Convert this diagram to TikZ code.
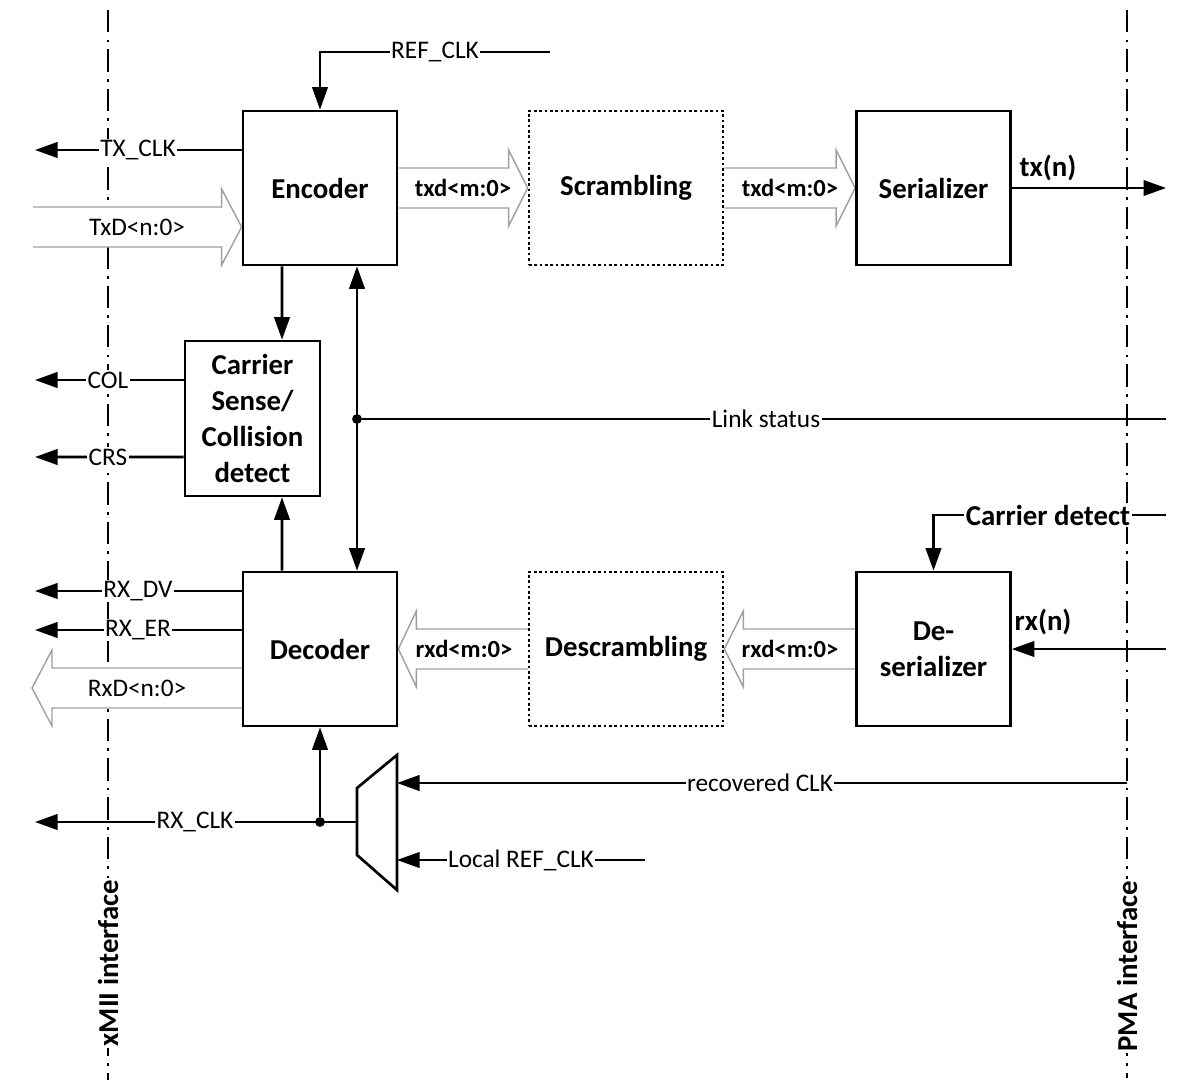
\documentclass[tikz,border=0pt]{standalone}
\usepackage{fontspec}
\setmainfont{Carlito}
\usetikzlibrary{arrows.meta,calc,backgrounds}

% hollow bus arrow: #1 tail, #2 tip, #3 signed head length
\newcommand\busarrow[3]{%
  \path[bus] ($(#1)+(0,-20)$) -- ($(#2)+(#3,-20)$) -- ($(#2)+(#3,-38)$) -- (#2)
    -- ($(#2)+(#3,38)$) -- ($(#2)+(#3,20)$) -- ($(#1)+(0,20)$);}

\begin{document}
\begin{tikzpicture}[x=0.025cm,y=-0.025cm,
  blk/.style={draw,line width=1.9pt,minimum width=3.85cm,minimum height=3.85cm,
    font=\fontsize{20.5}{25.5}\selectfont\bfseries,align=center,inner sep=0pt},
  dblk/.style={blk,minimum width=4.85cm,line width=1.9pt,dash pattern=on 1.9pt off 1.9pt},
  wire/.style={line width=1.8pt},
  sig/.style={wire,-{Triangle[length=16pt,width=11pt]}},
  dsig/.style={wire,{Triangle[length=16pt,width=11pt]}-{Triangle[length=16pt,width=11pt]}},
  lbl/.style={fill=white,inner sep=1pt,font=\fontsize{18}{21}\selectfont},
  blbl/.style={inner sep=1pt,font=\fontsize{20.5}{24}\selectfont\bfseries},
  buslbl/.style={inner sep=1pt,font=\fontsize{17.5}{20}\selectfont\bfseries},
  bus/.style={draw=gray!75,line width=1pt,fill=white},
  iface/.style={line width=1.8pt,dash pattern=on 16pt off 5pt on 2pt off 5pt},
  jdot/.style={circle,fill,inner sep=0pt,minimum size=7pt}
]
\useasboundingbox (0,0) rectangle (1181,1085);

% functional blocks
\node[blk] (enc) at (320,188) {Encoder};
\node[dblk] (scr) at (626,188) {Scrambling};
\node[blk] (ser) at (933.5,188) {Serializer};
\node[blk,minimum width=3.375cm,minimum height=3.875cm] (csd) at (252.5,418.5)
  {Carrier\\Sense/\\Collision\\detect};
\node[blk] (dec) at (320,649) {Decoder};
\node[dblk] (dscr) at (626,649) {Descrambling};
\node[blk] (dser) at (933.5,649) {De-\\serializer};

% clock multiplexer
\draw[line width=1.9pt] (357,788) -- (397,755) -- (397,890) -- (357,855) -- cycle;
\coordinate (muxout) at (357,822);
\coordinate (muxrec) at (397,783);
\coordinate (muxloc) at (397,860);

% interface boundaries and buses
\begin{pgfonlayer}{background}
  \draw[iface] (108,10) coordinate (xmiitop) -- (108,1080) coordinate (xmiibot);
  \draw[iface] (1127,10) coordinate (pmatop) -- (1127,1078) coordinate (pmabot);
  \coordinate (txdtail) at (33,227);
  \coordinate (txdtip) at ($(enc.west)+(0,39)$);
  \coordinate (rxdtail) at ($(dec.west)+(0,39)$);
  \coordinate (rxdtip) at (32,688);
  \busarrow{txdtail}{txdtip}{-20}
  \busarrow{enc.east}{scr.west}{-19}
  \busarrow{scr.east}{ser.west}{-19}
  \busarrow{dscr.west}{dec.east}{18}
  \busarrow{dser.west}{dscr.east}{19}
  \busarrow{rxdtail}{rxdtip}{20}
\end{pgfonlayer}
\node[rotate=90,fill=white,inner sep=1pt,font=\fontsize{20.5}{24}\selectfont\bfseries]
  (xmii) at (108,963) {xMII interface};
\node[rotate=90,fill=white,inner sep=1pt,font=\fontsize{20.5}{24}\selectfont\bfseries]
  (pma) at (1127,966) {PMA interface};

% bus labels
\node[buslbl] (txdl1) at (463,188) {txd<m:0>};
\node[buslbl] (txdl2) at (790,188) {txd<m:0>};
\node[buslbl] (rxdl1) at (464,649) {rxd<m:0>};
\node[buslbl] (rxdl2) at (790,649) {rxd<m:0>};
\node[lbl,fill=none] (txdl) at (137,227) {TxD<n:0>};
\node[lbl,fill=none] (rxdl) at (137,688) {RxD<n:0>};

% transmit side signals
\coordinate (refclk) at (550,52);
\draw[sig] (refclk) -| (enc.north);
\node[lbl] (refl) at (435,52) {REF\_CLK};

\coordinate (txclk) at (35,150);
\draw[sig] ($(enc.west)+(0,-38)$) -- (txclk);
\node[lbl] (txclkl) at (138,150) {TX\_CLK};

\coordinate (txn) at (1166,188);
\draw[sig] (ser.east) -- (txn);
\node[blbl] (txnl) at (1048,168) {tx(n)};

% carrier sense / collision detect
\draw[sig] ($(enc.south)+(-38,0)$) -- ($(csd.north)+(29.5,0)$);
\draw[sig] ($(dec.north)+(-38,0)$) -- ($(csd.south)+(29.5,0)$);
\coordinate (col) at (35,380);
\coordinate (crs) at (35,457);
\draw[sig] ($(csd.west)+(0,-38.5)$) -- (col);
\draw[sig] ($(csd.west)+(0,38.5)$) -- (crs);
\node[lbl] (coll) at (108,380) {COL};
\node[lbl] (crsl) at (108,457) {CRS};

% link status
\draw[dsig] ($(enc.south)+(37,0)$) -- ($(dec.north)+(37,0)$);
\node[jdot] (lsj) at (357,419) {};
\coordinate (lsend) at (1166,419);
\draw[wire] (lsj) -- (lsend);
\node[lbl] (lsl) at (766,419) {Link status};

% receive side signals
\coordinate (rxdv) at (35,591);
\coordinate (rxer) at (35,630);
\draw[sig] ($(dec.west)+(0,-58)$) -- (rxdv);
\draw[sig] ($(dec.west)+(0,-19)$) -- (rxer);
\node[lbl] (rxdvl) at (138,591) {RX\_DV};
\node[lbl] (rxerl) at (138,630) {RX\_ER};

\coordinate (cdet) at (1166,515);
\draw[sig] (cdet) -| (dser.north);
\node[fill=white,inner sep=1pt,font=\fontsize{20.5}{24}\selectfont\bfseries] (cdl) at (1048,515) {Carrier detect};

\coordinate (rxn) at (1166,649);
\draw[sig] (rxn) -- (dser.east);
\node[blbl] (rxnl) at (1043,622) {rx(n)};

% receive clock selection
\coordinate (rxclk) at (35,822);
\node[jdot] (rxj) at (320,822) {};
\draw[sig] (muxout) -- (rxclk);
\draw[sig] (rxj) -- (dec.south);
\node[lbl] (rxclkl) at (195,822) {RX\_CLK};

\coordinate (recclk) at (1127,783);
\draw[sig] (recclk) -- (muxrec);
\node[lbl] (recl) at (760,783) {recovered CLK};

\coordinate (locclk) at (645,860);
\draw[sig] (locclk) -- (muxloc);
\node[lbl] (locl) at (521,860) {Local REF\_CLK};
\end{tikzpicture}
\end{document}
